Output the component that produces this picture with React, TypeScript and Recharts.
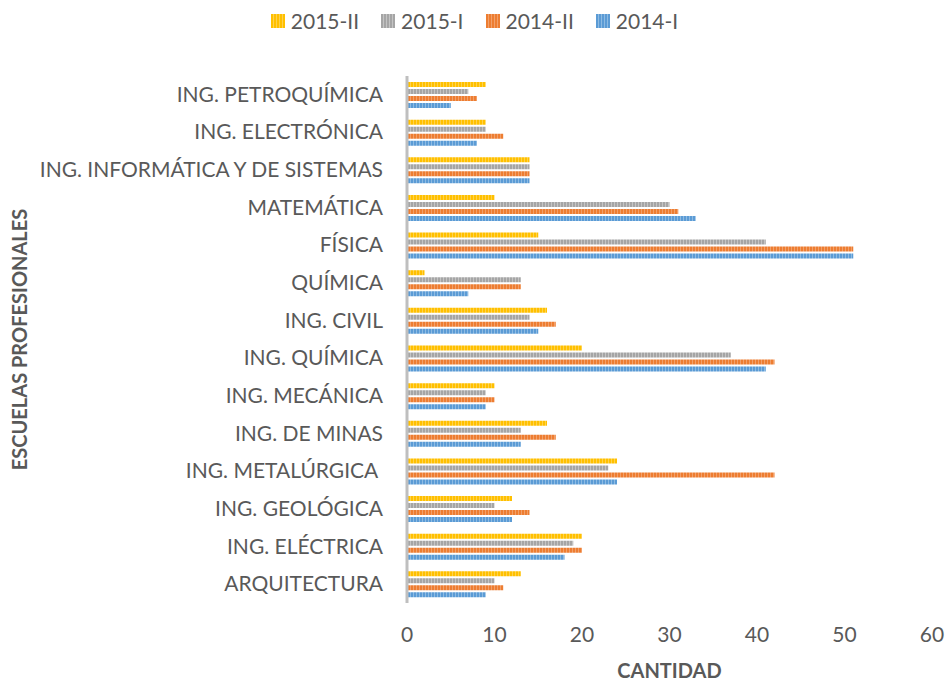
import React from "react";
import { BarChart, Bar, XAxis, YAxis, Label } from "recharts";

const categories = [
  "ING. PETROQUÍMICA",
  "ING. ELECTRÓNICA",
  "ING. INFORMÁTICA Y DE SISTEMAS",
  "MATEMÁTICA",
  "FÍSICA",
  "QUÍMICA",
  "ING. CIVIL",
  "ING. QUÍMICA",
  "ING. MECÁNICA",
  "ING. DE MINAS",
  "ING. METALÚRGICA ",
  "ING. GEOLÓGICA",
  "ING. ELÉCTRICA",
  "ARQUITECTURA",
];
const s2015II = [9, 9, 14, 10, 15, 2, 16, 20, 10, 16, 24, 12, 20, 13];
const s2015I = [7, 9, 14, 30, 41, 13, 14, 37, 9, 13, 23, 10, 19, 10];
const s2014II = [8, 11, 14, 31, 51, 13, 17, 42, 10, 17, 42, 14, 20, 11];
const s2014I = [5, 8, 14, 33, 51, 7, 15, 41, 9, 13, 24, 12, 18, 9];
const xTicks = [0, 10, 20, 30, 40, 50, 60];

const series = [
  { key: "2015-II", color: "#FFC000", light: "#FFD24D", values: s2015II },
  { key: "2015-I", color: "#A5A5A5", light: "#C4C4C4", values: s2015I },
  { key: "2014-II", color: "#ED7D31", light: "#F2A06A", values: s2014II },
  { key: "2014-I", color: "#5B9BD5", light: "#8DBBE3", values: s2014I },
];

const data = categories.map((c, i) => {
  const row: any = { name: c };
  series.forEach((s) => (row[s.key] = s.values[i]));
  return row;
});

const FONT = "Lato, 'Open Sans', sans-serif";
const TXT = "#595959";

const YTick = (props: any) => {
  const { y, payload } = props;
  return (
    <text
      x={383}
      y={y}
      dy={7}
      textAnchor="end"
      fontSize={21}
      fill={TXT}
      fontFamily={FONT}
      style={{ whiteSpace: "pre" }}
    >
      {payload.value}
    </text>
  );
};

const XTick = (props: any) => {
  const { x, payload } = props;
  return (
    <text x={x} y={642} textAnchor="middle" fontSize={21} fill={TXT} fontFamily={FONT}>
      {payload.value}
    </text>
  );
};

const LegendBox = () => (
  <div
    style={{
      position: "absolute",
      top: 8,
      left: 0,
      width: 949,
      display: "flex",
      justifyContent: "center",
      fontFamily: FONT,
      fontSize: 21,
      color: TXT,
    }}
  >
    {series.map((s, i) => (
      <div
        key={s.key}
        style={{ display: "flex", alignItems: "center", marginRight: i < series.length - 1 ? 22 : 0 }}
      >
        <svg width={14} height={14} style={{ marginRight: 6 }}>
          <rect width={14} height={14} fill={`url(#pat-${s.key})`} />
        </svg>
        <span>{s.key}</span>
      </div>
    ))}
  </div>
);

export default function App() {
  return (
    <div style={{ position: "absolute", left: 0, top: 0, width: 949, height: 682, background: "#fff" }}>
      <BarChart
        width={949}
        height={682}
        data={data}
        layout="vertical"
        margin={{ top: 76, right: 17, bottom: 0, left: 0 }}
        barSize={5}
        barGap={2}
      >
        <defs>
          {series.map((s) => (
            <pattern key={s.key} id={`pat-${s.key}`} width={3} height={3} patternUnits="userSpaceOnUse">
              <rect width={3} height={3} fill={s.color} />
              <rect x={2} width={1} height={3} fill={s.light} />
            </pattern>
          ))}
        </defs>
        <XAxis
          type="number"
          domain={[0, 60]}
          ticks={xTicks}
          axisLine={false}
          tickLine={false}
          tick={<XTick />}
          height={79}
          interval={0}
        >
          <Label
            value="CANTIDAD"
            position="insideBottom"
            offset={4}
            style={{ fontSize: 20, fontWeight: 700, fill: TXT, fontFamily: FONT }}
          />
        </XAxis>
        <YAxis
          type="category"
          dataKey="name"
          width={407}
          axisLine={{ stroke: "#BFBFBF", strokeWidth: 3 }}
          tickLine={false}
          tick={<YTick />}
          interval={0}
        >
          <Label
            value="ESCUELAS PROFESIONALES"
            angle={-90}
            position="insideLeft"
            offset={20}
            style={{ fontSize: 20, fontWeight: 700, fill: TXT, fontFamily: FONT, textAnchor: "middle" }}
          />
        </YAxis>
        {series.map((s) => (
          <Bar key={s.key} dataKey={s.key} fill={`url(#pat-${s.key})`} isAnimationActive={false} />
        ))}
      </BarChart>
      <LegendBox />
    </div>
  );
}
